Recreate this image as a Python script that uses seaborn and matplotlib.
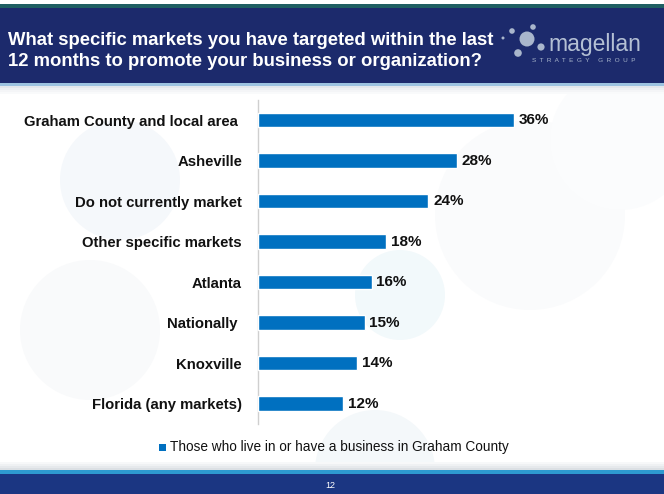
import matplotlib
matplotlib.use("Agg")
import matplotlib.pyplot as plt
from matplotlib.patches import Rectangle, Circle
import pandas as pd
import seaborn as sns

# data
markets = ["Graham County and local area ", "Asheville", "Do not currently market",
           "Other specific markets", "Atlanta", "Nationally ", "Knoxville",
           "Florida (any markets)"]
shares = [36, 28, 24, 18, 16, 15, 14, 12]
series_name = "Those who live in or have a business in Graham County"
title_text = ("What specific markets you have targeted within the last\n"
              "12 months to promote your business or organization?")
page_number = "12"

BAR = "#0070C0"
NAVY = "#1C2A6C"
FOOT_NAVY = "#1B3682"

sns.set_theme(style="white")
plt.rcParams["font.family"] = ["Liberation Sans", "DejaVu Sans"]

df = pd.DataFrame({"market": markets, "share": shares})

W, H = 664, 494
fig = plt.figure(figsize=(W / 100, H / 100), dpi=100)
fig.patch.set_facecolor("white")


def px(x, y):
    return x / W, 1 - y / H


def dot(cx, cy, r, color, z):
    # true circle in pixel units
    fig.patches.append(Circle((cx / 100, (H - cy) / 100), r / 100,
                              transform=fig.dpi_scale_trans,
                              facecolor=color, edgecolor="none", zorder=z))


def band(y_top, h, color):
    fig.patches.append(Rectangle(px(0, y_top + h), 1, h / H, transform=fig.transFigure,
                                 facecolor=color, edgecolor="none", zorder=1))


# faint background bubbles
for cx, cy, r, c in [(120, 180, 60, "#F5F8FB"), (400, 295, 45, "#F2F9FB"),
                     (530, 215, 95, "#FAFBFC"), (90, 330, 70, "#F9FAFB"),
                     (375, 470, 60, "#F4F8FA"), (620, 140, 70, "#FBFCFD")]:
    dot(cx, cy, r, c, 0)

# header band
band(4, 4, "#1F5F62")
band(8, 75, NAVY)
band(83, 3, "#9CC3E0")
for i, shade in enumerate(["#E4E8EC", "#EDF0F2", "#F4F5F7", "#F9FAFB"]):
    band(86 + 2 * i, 2, shade)

# footer band
for i, shade in enumerate(["#F7F8F9", "#EFF1F3", "#E6E9EC", "#DCE0E4"]):
    band(462 + 2 * i, 2, shade)
band(470, 4, "#2E9AD0")
band(474, 20, FOOT_NAVY)
fig.text(*px(330, 485), page_number, color="white", fontsize=6.5,
         ha="center", va="center", zorder=3)

# title
fig.text(*px(8, 51), title_text, color="white", fontsize=13.3, fontweight="bold",
         ha="left", va="center", linespacing=1.32, zorder=3)

# logo
for cx, cy, r in [(527, 39, 7.5), (512, 31, 2.8), (533, 27, 2.8),
                  (541, 47, 3.6), (518, 53, 3.8), (503, 38, 1.5)]:
    dot(cx, cy, r, "#A9B6CC", 2)
fig.text(*px(548, 44), "magellan", color="#B4C0D4", fontsize=16.5,
         ha="left", va="center", zorder=3)
fig.text(*px(532, 60), "S  T  R  A  T  E  G  Y     G  R  O  U  P", color="#A9B6CC",
         fontsize=4.6, ha="left", va="center", zorder=3)

# bars
ax = fig.add_axes([258 / W, 1 - 423.75 / H, 284 / W, 324 / H])
ax.set_zorder(5)
ax.set_facecolor("none")
sns.barplot(data=df, y="market", x="share", orient="h", color=BAR,
            width=0.36, saturation=1, ax=ax, zorder=3)
ax.set_xlim(0, 40)
ax.set_ylim(7.5, -0.5)
ax.set_xlabel("")
ax.set_ylabel("")
ax.set_xticks([])
ax.tick_params(axis="y", length=0, pad=11.5)
for lab in ax.get_yticklabels():
    lab.set_fontweight("bold")
    lab.set_fontsize(10.7)
    lab.set_color("#111111")
for side in ["top", "right", "bottom"]:
    ax.spines[side].set_visible(False)
ax.spines["left"].set_color("#CFCFCF")
ax.spines["left"].set_linewidth(1)
ax.bar_label(ax.containers[0], fmt="%d%%", padding=3.5, fontsize=11,
             fontweight="bold", color="#111111")

# legend
fig.patches.append(Rectangle(px(159, 451), 7 / W, 7 / H, transform=fig.transFigure,
                             facecolor=BAR, edgecolor="none", zorder=2))
fig.text(*px(170, 447), series_name, color="#111111", fontsize=9.8,
         ha="left", va="center", zorder=3)

fig.savefig("out.png", dpi=100, facecolor=fig.get_facecolor())
